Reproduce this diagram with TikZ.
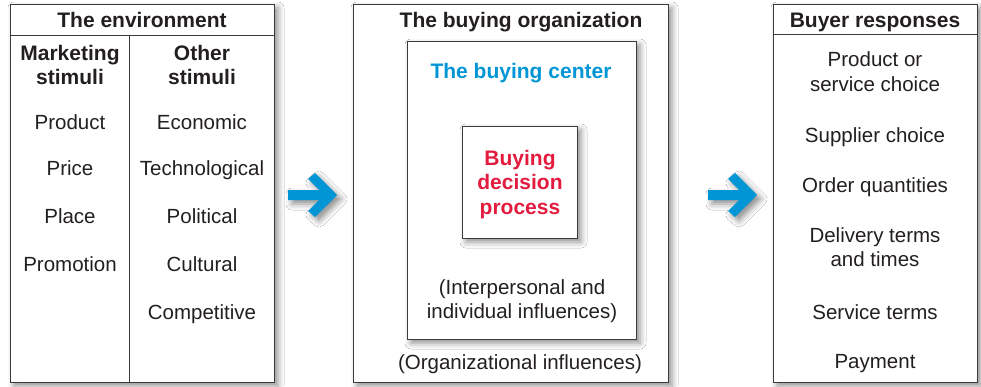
\documentclass[tikz,border=0pt]{standalone}
\usepackage{fontspec}
\setmainfont{Liberation Sans}
\usetikzlibrary{shadows.blur}
\definecolor{ink}{HTML}{231F20}
\definecolor{cblue}{HTML}{0096D6}
\definecolor{cred}{HTML}{E31B3F}
\definecolor{frame}{HTML}{3A3A3A}
\begin{document}
\begin{tikzpicture}[x=1pt,y=-1pt,
  shade/.style={blur shadow={shadow xshift=4pt, shadow yshift=-4pt, shadow blur radius=6pt, shadow opacity=45}},
  box/.style={draw=frame, line width=0.9pt, fill=white, rectangle, inner sep=0pt, shade},
  txt/.style={font=\fontsize{20.5}{24.5}\selectfont, text=ink, align=center, inner sep=0pt, anchor=base},
  hdr/.style={txt, font=\fontsize{21}{24.5}\selectfont\bfseries},
  rule/.style={draw=frame, line width=0.9pt},
  bluearrow/.style={fill=cblue, shade},
]
\useasboundingbox (0,0) rectangle (981,386);
\fill[white] (0,0) rectangle (981,386);

% boxes
\node[box, minimum width=264pt, minimum height=378pt] (env) at (142,193) {};
\node[box, minimum width=315pt, minimum height=378pt] (org) at (510.5,193) {};
\node[box, minimum width=229pt, minimum height=298pt] (ctr) at (521.5,190) {};
\node[box, minimum width=115pt, minimum height=112pt] (bdp) at (519.5,182) {};
\node[box, minimum width=204pt, minimum height=378pt] (resp) at (875,193) {};

% rules inside boxes
\draw[rule] ([yshift=-32pt]env.north west) -- ([yshift=-32pt]env.north east);
\draw[rule] ([xshift=120pt,yshift=-32pt]env.north west) -- ([xshift=120pt]env.south west);
\draw[rule] ([yshift=-31pt]resp.north west) -- ([yshift=-31pt]resp.north east);

% arrows
\coordinate (a1) at (288,195);
\coordinate (a2) at (708,195);
\foreach \c in {a1,a2}{
  \fill[bluearrow, shift={(\c)}] (0,-5) -- (31,-5) -- (20,-16) -- (27,-22) -- (49,0)
     -- (27,22) -- (20,16) -- (31,5) -- (0,5) -- cycle;
}

% environment texts
\node[hdr] (envh) at (142,27.5) {The environment};
\node[hdr] (mkt) at (70,84.5) {Marketing\\stimuli};
\node[hdr] (oth) at (202,84.5) {Other\\stimuli};
\node[txt] (m1) at (70,129) {Product};
\node[txt] (m2) at (70,175) {Price};
\node[txt] (m3) at (70,223) {Place};
\node[txt] (m4) at (70,271) {Promotion};
\node[txt] (o1) at (202,129) {Economic};
\node[txt] (o2) at (202,175) {Technological};
\node[txt] (o3) at (202,223) {Political};
\node[txt] (o4) at (202,271) {Cultural};
\node[txt] (o5) at (202,319) {Competitive};

% organization texts
\node[hdr] (orgh) at (521,27.5) {The buying organization};
\node[hdr, text=cblue] (ctrh) at (521,78) {The buying center};
\node[hdr, text=cred] (bdpt) at (520,214) {Buying\\decision\\process};
\node[txt] (ipi) at (522,318.5) {(Interpersonal and\\individual influences)};
\node[txt] (oi) at (520,369) {(Organizational influences)};

% responses texts
\node[hdr] (resph) at (875,27.5) {Buyer responses};
\node[txt] (r1) at (875,91) {Product or\\service choice};
\node[txt] (r2) at (875,142) {Supplier choice};
\node[txt] (r3) at (875,192) {Order quantities};
\node[txt] (r4) at (875,266.5) {Delivery terms\\and times};
\node[txt] (r5) at (875,319) {Service terms};
\node[txt] (r6) at (875,368) {Payment};
\end{tikzpicture}
\end{document}
